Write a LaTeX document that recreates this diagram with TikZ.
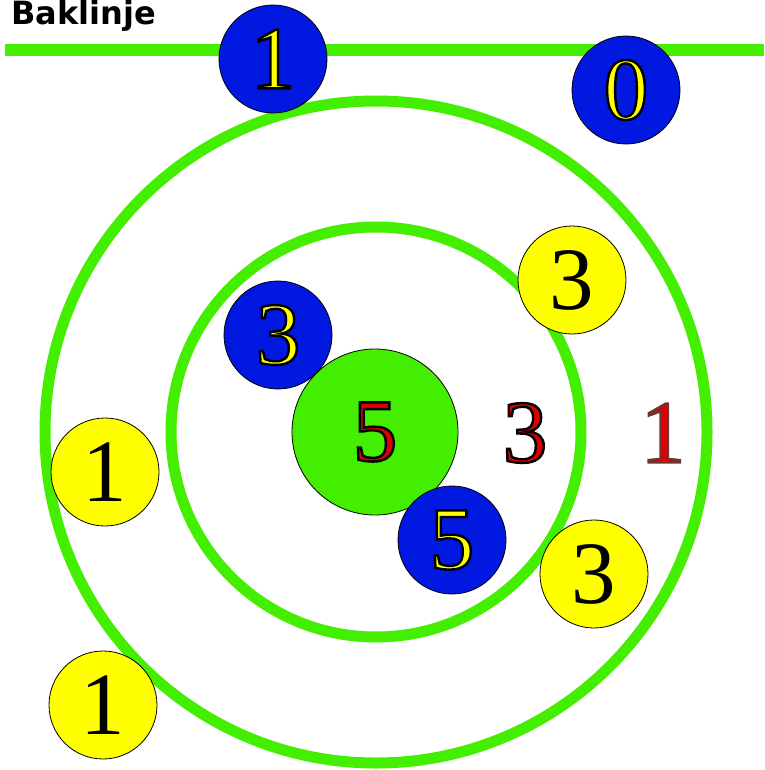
\documentclass[tikz,border=0pt]{standalone}
\usepackage{fontspec}
\setsansfont{DejaVu Sans}
\newfontfamily\digitfont{Liberation Serif}
\usetikzlibrary{positioning}
\definecolor{cgreen}{HTML}{44EE00}
\definecolor{cblue}{HTML}{0018E0}
\definecolor{cyellow}{HTML}{FFFF00}
\definecolor{cred}{HTML}{DD0000}
\definecolor{cbrown}{HTML}{6E3434}
\tikzset{
  every picture/.style={line width=1pt},
  ring/.style={draw=cgreen, line width=11pt},
  disc/.style={circle, draw=black, line width=0.8pt, fill=#1, minimum size=108pt, inner sep=0pt},
  disc/.default=cyellow,
  digit/.style={font=\digitfont\fontsize{89}{89}\selectfont, inner sep=0pt},
  title/.style={font=\sffamily\bfseries\fontsize{32}{32}\selectfont, anchor=base west, inner sep=0pt},
}
% filled and stroked glyphs: #1 fill colour, #2 stroke rgb, #3 text
\newcommand{\outl}[3]{{\color{#1}\special{pdf:code q 2 Tr 2.4 w #2 RG}#3\special{pdf:code Q}}}
\newcommand{\yel}[1]{\outl{cyellow}{0 0 0}{#1}}
\newcommand{\blk}[1]{\outl{black}{0 0 0}{#1}}

\begin{document}
\begin{tikzpicture}[x=1pt, y=-1pt]
  \useasboundingbox (0,0) rectangle (764,770);
  \node[title] (title) at (11,25) {Baklinje};
  \coordinate (linestart) at (5,50);
  \coordinate (lineend) at (764,50);
  \draw[draw=cgreen, line width=12pt] (linestart) -- (lineend);
  \draw[ring] (376,432) circle (331);
  \draw[ring] (376,432) circle (205);
  \node[disc=cgreen, minimum size=166pt] (bull) at (375,432) {};
  \node[digit] (bullnum) at (bull) {\outl{cred}{0 0 0}{5}};
  % blue discs
  \node[disc=cblue, digit] (bone) at (273,59) {\yel{1}};
  \node[disc=cblue, digit] (bzero) at (626,90) {\yel{0}};
  \node[disc=cblue, digit] (bthree) at (278,335) {\yel{3}};
  \node[disc=cblue, digit] (bfive) at (452,540) {\yel{5}};
  % yellow discs
  \node[disc, digit] (ythreea) at (572,280) {3};
  \node[disc, digit] (ythreeb) at (594,574) {3};
  \node[disc, digit] (yonea) at (105,472) {1};
  \node[disc, digit] (yoneb) at (103,705) {1};
  % ring scores
  \node[digit] (rthree) at (525,433) {\outl{cred}{0 0 0}{3}};
  \node[digit] (rone) at (663,433) {\outl{cred}{0.43 0.2 0.2}{1}};
\end{tikzpicture}
\end{document}
